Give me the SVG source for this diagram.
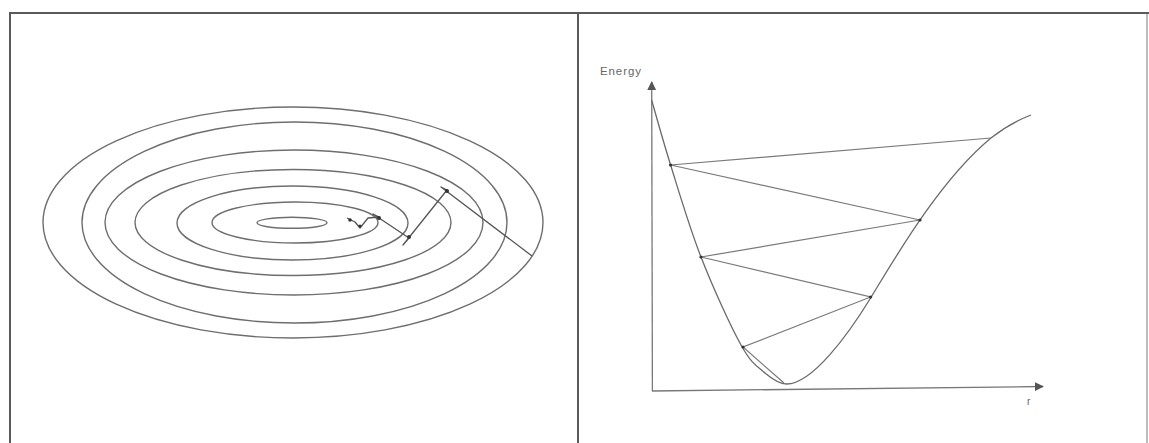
<svg xmlns="http://www.w3.org/2000/svg" width="1149" height="443" viewBox="0 0 1149 443">
  <style>
    .frame { fill: none; stroke: #5a5a5a; stroke-width: 2; }
    .ring { fill: none; stroke: #6e6e6e; stroke-width: 1.4; }
    .path { fill: none; stroke: #555; stroke-width: 1.3; stroke-linejoin: round; }
    .curve { fill: none; stroke: #6a6a6a; stroke-width: 1.3; }
    .zig { fill: none; stroke: #7a7a7a; stroke-width: 1.2; }
    .axis { fill: none; stroke: #777; stroke-width: 1.3; }
    .dot { fill: #333; }
    .lbl { font-family: "Liberation Sans", Arial, sans-serif; fill: #666; }
  </style>
  <defs>
    <marker id="arr" viewBox="0 0 10 10" refX="9" refY="5" markerWidth="9" markerHeight="9" markerUnits="userSpaceOnUse" orient="auto">
      <path d="M0,0 L10,5 L0,10 z" fill="#555"/>
    </marker>
  </defs>
  <rect width="1149" height="443" fill="#ffffff"/>

  <g id="frames">
    <line class="frame" x1="9" y1="13" x2="1149" y2="13"/>
    <line class="frame" x1="10" y1="12" x2="10" y2="443"/>
    <line class="frame" x1="578" y1="12" x2="578" y2="443"/>
    <line class="frame" x1="1147" y1="12" x2="1147" y2="443" stroke-opacity="0.4"/>
  </g>

  <g id="contours">
    <ellipse class="ring" cx="292" cy="222.8" rx="35" ry="5.5"/>
    <ellipse class="ring" cx="295" cy="222.5" rx="83" ry="20.5"/>
    <ellipse class="ring" cx="292.5" cy="223" rx="115.5" ry="37"/>
    <ellipse class="ring" cx="293" cy="222.5" rx="158" ry="53"/>
    <ellipse class="ring" cx="294" cy="222.5" rx="189" ry="72.5"/>
    <ellipse class="ring" cx="294.5" cy="222.5" rx="212.5" ry="100.5"/>
    <ellipse class="ring" cx="293" cy="222.5" rx="250" ry="115.5" stroke="#8a8a8a"/>
  </g>

  <g id="descent-path">
    <polyline class="path" points="532,256 441,187 447,190 403,245 409,238 373,214 379,217 368,218 360,228 355,222 347,218"/>
    <circle class="dot" cx="447" cy="191" r="2"/>
    <circle class="dot" cx="409" cy="237" r="2"/>
    <circle class="dot" cx="379" cy="218" r="2"/>
    <circle class="dot" cx="350" cy="220" r="1.8"/>
    <circle class="dot" cx="360" cy="226" r="1.6"/>
  </g>

  <g id="axes">
    <line class="axis" x1="652.4" y1="391" x2="651.7" y2="82" marker-end="url(#arr)"/>
    <line class="axis" x1="652" y1="391" x2="1043" y2="386.5" marker-end="url(#arr)"/>
    <text class="lbl" x="600" y="75" font-size="11.5" letter-spacing="0.9">Energy</text>
    <text class="lbl" x="1027" y="405" font-size="10">r</text>
  </g>

  <g id="energy-curve">
    <path class="curve" d="M651.6,100 C654.8,110.8 662.4,138.8 670.6,165 C678.8,191.2 689.3,227 701,257 C712.7,287 730.3,325.7 741,345 C751.7,364.3 757.4,366.5 765,373 C772.6,379.5 779.4,384 786.7,384 C812,384 848,335 870.6,298 C895,258 940,180 991,138 C1005,127 1018,120 1031,115"/>
  </g>

  <g id="connectors">
    <polyline class="zig" points="991,138 670.6,165 920,220 701,257 870.6,297 743,347 784,383"/>
    <circle class="dot" cx="670.6" cy="165" r="1.6"/>
    <circle class="dot" cx="920" cy="220" r="1.6"/>
    <circle class="dot" cx="701" cy="257" r="1.6"/>
    <circle class="dot" cx="870.6" cy="297" r="1.6"/>
    <circle class="dot" cx="743" cy="347" r="1.6"/>
  </g>
</svg>
